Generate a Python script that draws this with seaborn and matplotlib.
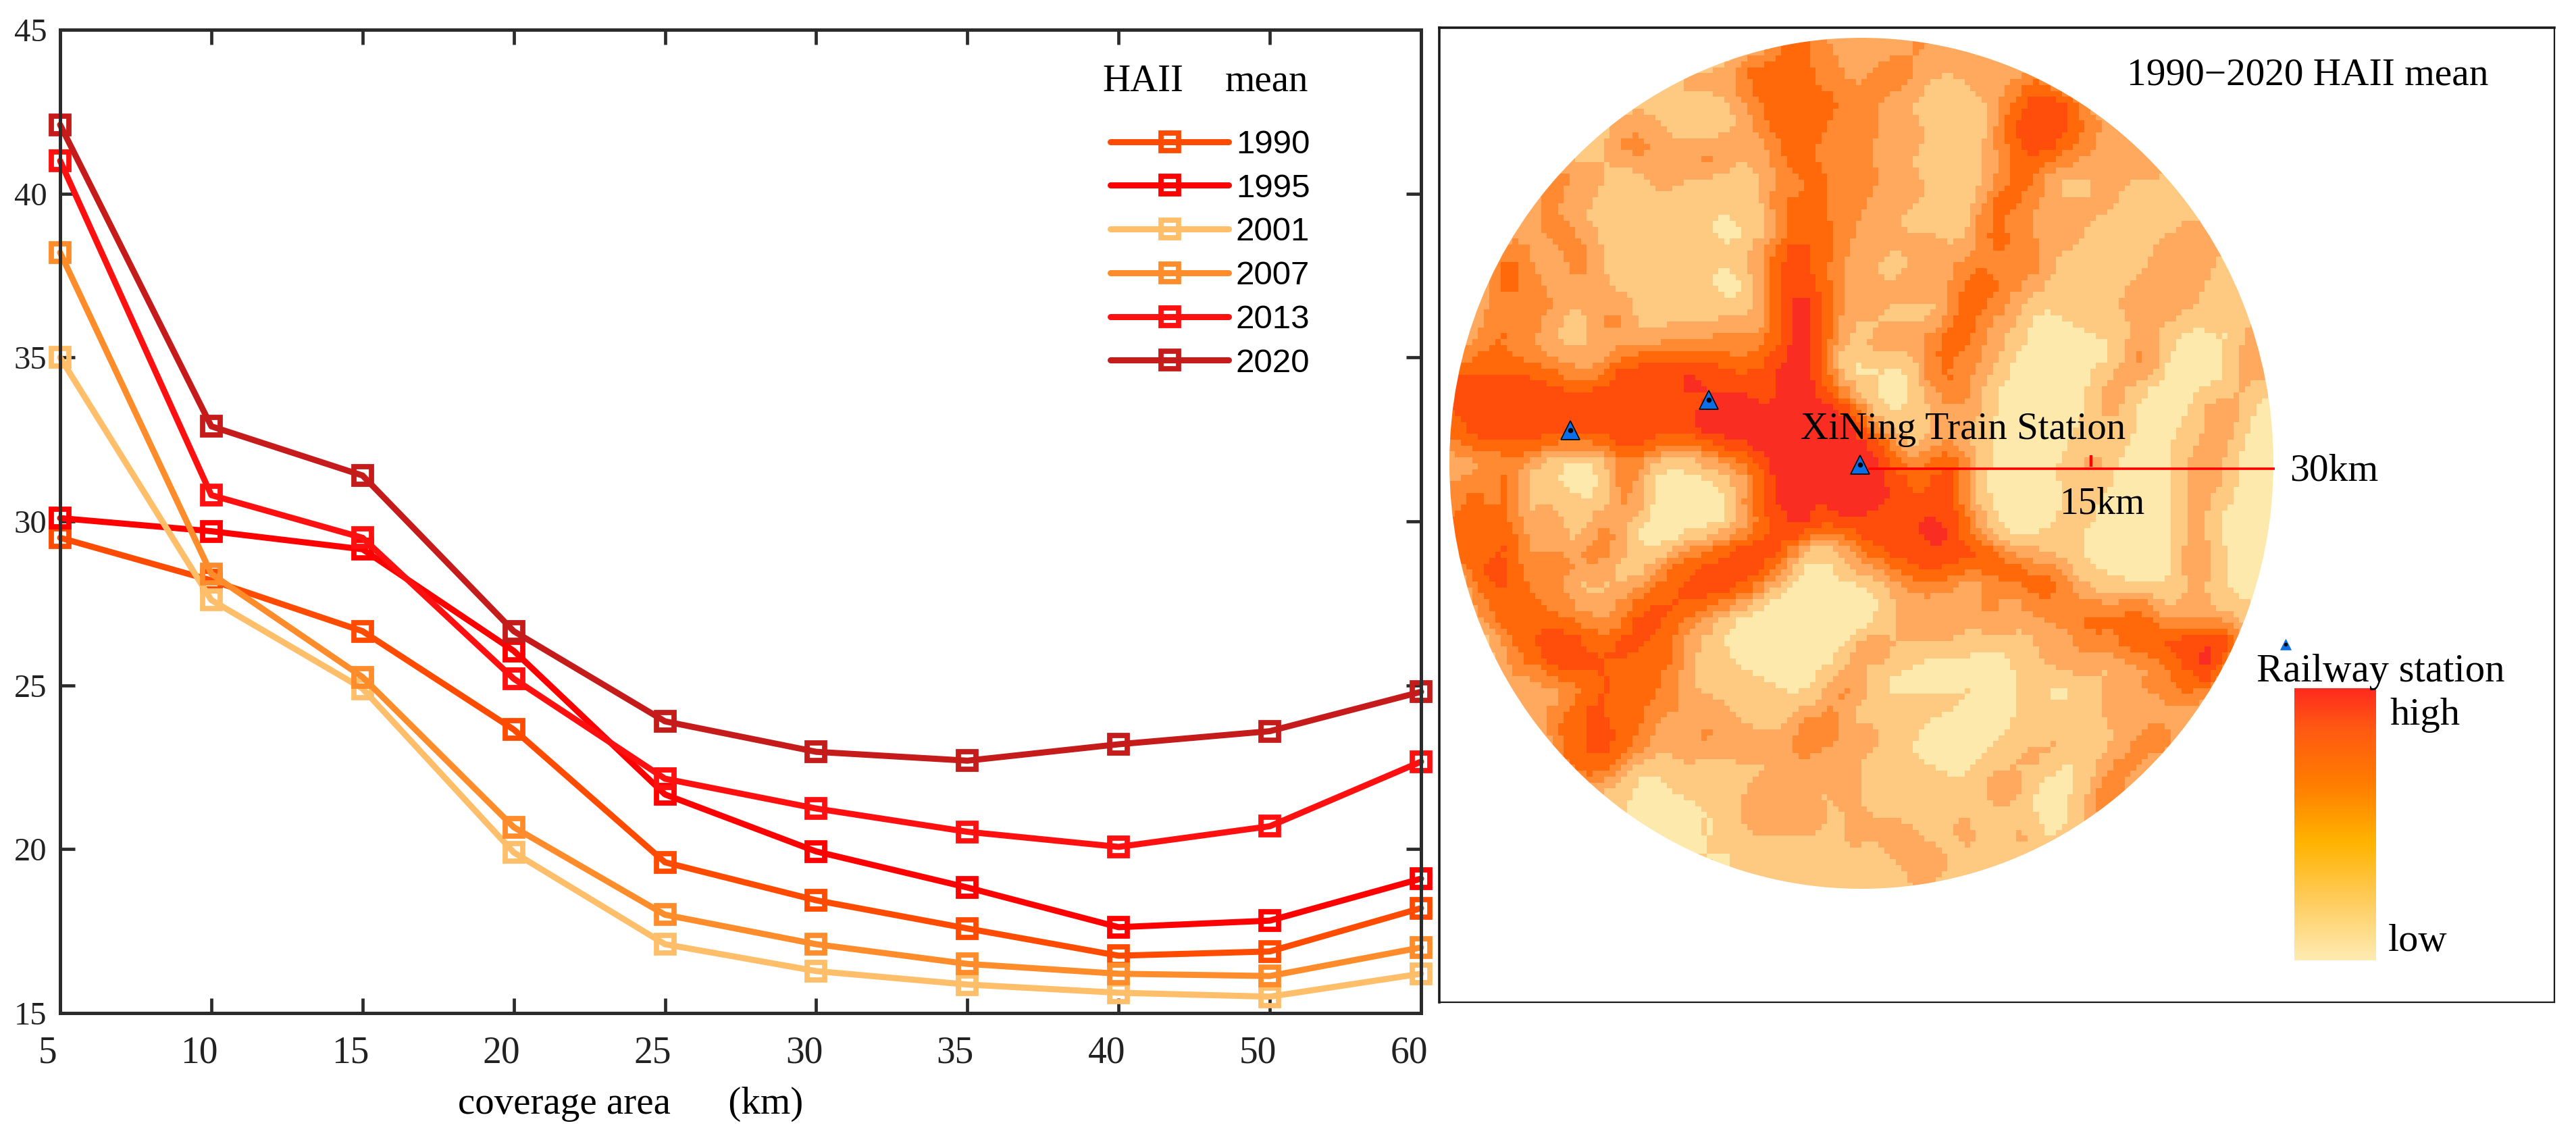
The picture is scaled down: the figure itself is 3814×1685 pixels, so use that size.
import numpy as np
import pandas as pd
import seaborn as sns
import matplotlib
matplotlib.use("Agg")
import matplotlib.pyplot as plt
from matplotlib.colors import ListedColormap, LinearSegmentedColormap
from matplotlib.cm import ScalarMappable
from matplotlib.patches import Ellipse
from matplotlib.transforms import ScaledTranslation

W, H = 3814, 1685

# ---------------- data ----------------
COVERAGE_KM = [5, 10, 15, 20, 25, 30, 35, 40, 50, 60]
YEARS = [1990, 1995, 2001, 2007, 2013, 2020]
HAII_1990 = [29.5, 28.2, 26.65, 23.65, 19.6, 18.44, 17.58, 16.75, 16.88, 18.2]
HAII_1995 = [30.1, 29.7, 29.15, 26.05, 21.67, 19.93, 18.83, 17.62, 17.82, 19.1]
HAII_2001 = [35.0, 27.6, 24.9, 19.9, 17.1, 16.28, 15.87, 15.62, 15.5, 16.2]
HAII_2007 = [38.2, 28.4, 25.25, 20.67, 18.0, 17.1, 16.5, 16.2, 16.13, 17.0]
HAII_2013 = [41.0, 30.8, 29.5, 25.2, 22.15, 21.24, 20.53, 20.07, 20.7, 22.67]
HAII_2020 = [42.1, 32.9, 31.4, 26.65, 23.9, 22.97, 22.7, 23.2, 23.6, 24.8]
YEAR_COLORS = ["#FF4B00", "#FF0000", "#FFBE69", "#FF8C2B", "#FF1010", "#C51B1B"]

# HAII class of the map raster, read cell by cell per quadrant (0 low .. 6 high)
MAP_TL = [
"111111111111111111144322","111111111111111124444332","111111111111122224445332",
"111111111111111123444443","111111111122111112444433","111111111232211122344433",
"111111111233223322244333","111111322112222211234434","111114322111211111233433",
"111113221111111111244433","111123321111111001134433","111322332111111101245442",
"113432232111111112355432","113432232111111001355432","113433222211111101356532",
"123333212321111111356532","123432112321222232356531","234332212223333333456521",
"444443322455555544566520","555555444555566555566531","555555555555555666566653",
"455555555555556666666666","455555555565555666666666","233342111343212345666666",
]
MAP_TR = [
"222322111111111111111111","233222222111111111111111","333211222441111111111111",
"322111123455411111111111","322111114565432111111111","322211124555432211111111",
"312111123554322221111111","322111123432222222111111","322211124431112111111111",
"222111144322222111111111","221111243322211111122111","222221244322211212232111",
"211222333331111112222111","212223443321111122221111","222223443211111222221011",
"211114432101111222211111","122234422100011121101023","222244321000000231000122",
"010243321000001231000122","100234210000012210000121","100123210000012100012210",
"211122210000012100012210","531122100000111100112200","652243210000121000122100",
]
MAP_BL = [
"223411000241001123566666","343411100231000013566666","343412111231000014566566",
"444422212310000012456555","444522213310012345553123","445433333211244555531012",
"145533312112445555320001","134443321234455543100000","124444332245543210000000",
"112445544355432100000000","111345654554431100000002","111334555444431110000012",
"111222334544321111100123","111122245444332211111132","111113445443222221113331",
"111111445543223322223332","111111445432122122223222","111111144310111111122222",
"111111111110011112322122","111111111100000112222212","111111111110001012222212",
"111111111111100111111112","111111111111111001111111","111111111111111111111111",
]
MAP_BR = [
"654455200001121000122100","665454100000110000122100","655555210000210000121000",
"555665310001100000121000","555565431111100000121000","345555554322100000132000",
"123443234444111000121000","012222232343321221121100","012322232233344442222111",
"112222122122343444444411","321111101122233445566511","111000000112221223456111",
"100000100110112233444111","111111000110112222331111","111100000111112222211111",
"311000001112111234211111","111000011221112332111111","111110112110013311111111",
"112011123100124211111111","111111111100124111111111","222112201200121111111111",
"122211211211111111111111","112231111111111111111111","111211111111111111111111",
]
MAP_CLASS_COLORS = ["#FEE9AC", "#FEC981", "#FEA95E", "#FF8A31", "#FF690A", "#FF4E0C", "#FA2D22"]
COLORBAR_STOPS = ["#FEEBB2", "#FFC850", "#FFB400", "#FF7A00", "#FF5A12", "#FF2A1E"]

# stations, in km from the train station (east, north)
STATION_EAST_KM = [-11.1, -21.2, -0.1]
STATION_NORTH_KM = [5.0, 2.8, 0.3]
KEY_STATION_EAST_KM = [30.9]
KEY_STATION_NORTH_KM = [-12.8]
RANGE_LINE_KM = [0.5, 30.1]
RANGE_TICK_KM = [16.7, 16.7]
RANGE_TICK_NORTH = [0.15, 1.0]

# ---------------- style ----------------
sns.set_theme(style="white")
plt.rcParams["font.family"] = ["Liberation Serif", "DejaVu Serif"]
SERIF = "Liberation Serif"
SANS = "Liberation Sans"
INK = "#2B2B2B"


def box(l, t, r, b):
    return [l / W, 1 - b / H, (r - l) / W, (b - t) / H]


def ftext(x, y, s, size, **kw):
    fig.text(x / W, 1 - y / H, s, fontsize=size, family=SERIF, color="black",
             ha="left", va="baseline", **kw)


fig = plt.figure(figsize=(W / 100, H / 100), dpi=100, facecolor="white")

# ---------------- left line chart ----------------
ax = fig.add_axes(box(89, 44, 2104, 1500))
positions = np.arange(len(COVERAGE_KM))
series = [HAII_1990, HAII_1995, HAII_2001, HAII_2007, HAII_2013, HAII_2020]
for year, vals, col in zip(YEARS, series, YEAR_COLORS):
    df = pd.DataFrame({"pos": positions, "haii": vals})
    sns.lineplot(data=df, x="pos", y="haii", ax=ax, color=col, linewidth=6.5,
                 marker="s", markersize=19, markeredgewidth=5.6, markeredgecolor=col,
                 markerfacecolor="none", label=str(year), errorbar=None, clip_on=False)

ax.set_xlim(0, len(COVERAGE_KM) - 1)
ax.set_ylim(15, 45)
ax.set_xticks(positions)
ax.set_xticklabels(COVERAGE_KM)
ax.set_yticks(range(15, 50, 5))
ax.tick_params(axis="both", which="major", direction="in", length=16, width=3.4,
               color=INK, top=True, right=True, bottom=True, left=True)
ax.tick_params(axis="x", labelsize=40, pad=24, labelcolor="#222222")
ax.tick_params(axis="y", labelsize=35, pad=14, labelcolor="#222222")
shift = ScaledTranslation(-0.18, 0, fig.dpi_scale_trans)
for lab in ax.get_xticklabels():
    lab.set_transform(lab.get_transform() + shift)
    lab.set_family(SERIF)
for lab in ax.get_yticklabels():
    lab.set_family(SERIF)
for s in ax.spines.values():
    s.set_visible(True)
    s.set_linewidth(3.6)
    s.set_color(INK)
ax.set_ylabel("")
ax.set_xlabel("coverage area      (km)", fontsize=41, family=SERIF, color="black")
ax.xaxis.set_label_coords(0.419, -0.075)

handles, labels = ax.get_legend_handles_labels()
leg = ax.legend(handles, labels, loc="upper left", bbox_to_anchor=(1644 / W, 1 - 192 / H),
                bbox_transform=fig.transFigure, frameon=False, borderpad=0, borderaxespad=0,
                handlelength=3.55, handletextpad=0.22, labelspacing=0.40,
                prop={"family": SANS, "size": 35.5})
for t in leg.get_texts():
    t.set_color("black")
ftext(1632, 135, "HAII", 41)
ftext(1814, 135, "mean", 41)

# ---------------- map raster ----------------
rows = [a + b for a, b in zip(MAP_TL, MAP_TR)] + [a + b for a, b in zip(MAP_BL, MAP_BR)]
grid = np.array([[int(c) for c in r] for r in rows], dtype=float)
# the original raster has cells about a third of this reading grid: refine class borders
FINE = 3
fine = np.kron(grid, np.ones((FINE, FINE)))
pad = np.pad(fine, 2, mode="edge")
smooth = sum(pad[2 + i:pad.shape[0] - 2 + i, 2 + j:pad.shape[1] - 2 + j]
             for i in range(-2, 3) for j in range(-2, 3)) / 25
fine_classes = np.rint(smooth)
map_ax = fig.add_axes(box(2146, 56, 3366, 1316), zorder=1)
sns.heatmap(fine_classes, ax=map_ax, cmap=ListedColormap(MAP_CLASS_COLORS), vmin=-0.5, vmax=6.5,
            cbar=False, xticklabels=False, yticklabels=False, linewidths=0)
circle = Ellipse((0.5, 0.5), 1, 1, transform=map_ax.transAxes)
map_ax.collections[0].set_clip_path(circle)
map_ax.set_axis_off()

# ---------------- map frame and marks (km coordinates) ----------------
KM = 20.33
X0, Y0 = 2756, 694
panel = fig.add_axes(box(2131, 41, 3782, 1484), zorder=2, facecolor="none")
panel.set_xlim((2131 - X0) / KM, (3782 - X0) / KM)
panel.set_ylim((Y0 - 1484) / KM, (Y0 - 41) / KM)
panel.set_xticks([])
panel.set_yticks([])
for name, s in panel.spines.items():
    s.set_visible(True)
    s.set_color("#1A1A1A")
    s.set_linewidth(2.6 if name in ("top", "left") else 1.6)

panel.plot(RANGE_LINE_KM, [0, 0], color="#FF0000", lw=2.6, solid_capstyle="butt")
panel.plot(RANGE_TICK_KM, RANGE_TICK_NORTH, color="#FF0000", lw=3.2, solid_capstyle="butt")
panel.plot(STATION_EAST_KM, STATION_NORTH_KM, ls="none", marker="^", ms=20,
           mfc="#0A6FE8", mec="black", mew=1.2)
panel.plot(STATION_EAST_KM, STATION_NORTH_KM, ls="none", marker="o", ms=4.5, mfc="black", mec="black")
panel.plot(KEY_STATION_EAST_KM, KEY_STATION_NORTH_KM, ls="none", marker="^", ms=12,
           mfc="#0A6FE8", mec="#0A6FE8", mew=0.5)
panel.plot(KEY_STATION_EAST_KM, KEY_STATION_NORTH_KM, ls="none", marker="o", ms=3, mfc="black", mec="black")

ftext(3149, 126, "1990\u22122020 HAII mean", 41.3, zorder=5)
ftext(2666, 650, "XiNing Train Station", 41, zorder=5)
ftext(3390, 711, "30km", 41.5, zorder=5)
ftext(3049, 760, "15km", 40, zorder=5)
ftext(3341, 1009, "Railway station", 42.3, zorder=5)
ftext(3538, 1073, "high", 42, zorder=5)
ftext(3536, 1408, "low", 42, zorder=5)

# ---------------- colour ramp ----------------
cax = fig.add_axes(box(3397, 1019, 3518, 1422), zorder=3)
ramp = LinearSegmentedColormap.from_list("haii", list(zip([0, 0.25, 0.43, 0.66, 0.85, 1], COLORBAR_STOPS)))
cb = fig.colorbar(ScalarMappable(cmap=ramp), cax=cax, orientation="vertical")
cb.set_ticks([])
cb.outline.set_visible(False)

fig.savefig("out.png", dpi=100, facecolor="white")
